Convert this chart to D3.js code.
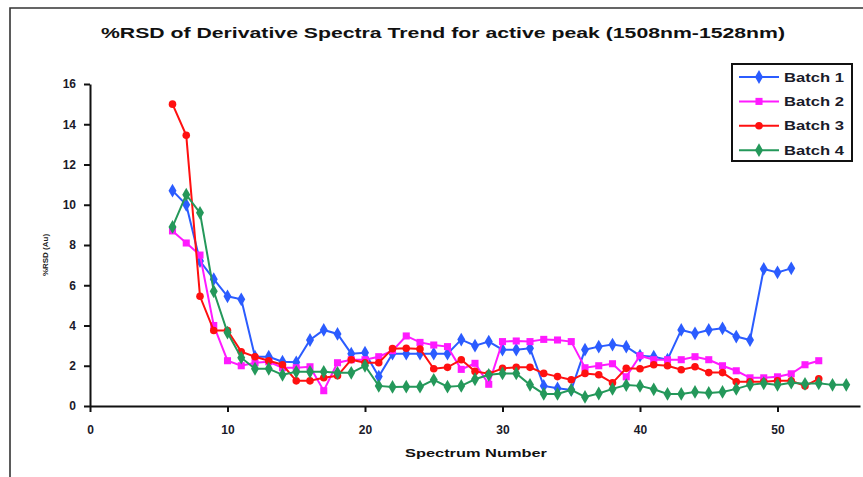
<!DOCTYPE html>
<html><head><meta charset="utf-8">
<script src="https://cdn.jsdelivr.net/npm/d3@7"></script>
<style>html,body{margin:0;padding:0;background:#fff;overflow:hidden}</style>
</head><body>
<svg id="c" width="863" height="477"></svg>
<script>
const chartTitle = "%RSD of Derivative Spectra Trend for active peak (1508nm-1528nm)";
const xTitle = "Spectrum Number";
const yTitle = "%RSD (Au)";
const seriesNames = ["Batch 1", "Batch 2", "Batch 3", "Batch 4"];
const xTicks = [0, 10, 20, 30, 40, 50];
const yTicks = [0, 2, 4, 6, 8, 10, 12, 14, 16];

const batch1Start = 6;
const batch1 = [10.7, 10.0, 7.2, 6.3, 5.45, 5.3, 2.45, 2.45, 2.2, 2.17, 3.28, 3.78, 3.58, 2.6, 2.65, 1.46,
  2.6, 2.6, 2.6, 2.6, 2.6, 3.3, 3.0, 3.2, 2.8, 2.8, 2.87, 1.0, 0.88, 0.8, 2.8, 2.95, 3.05, 2.95, 2.5, 2.45,
  2.3, 3.78, 3.61, 3.78, 3.86, 3.45, 3.28, 6.81, 6.64, 6.84];
const batch2Start = 6;
const batch2 = [8.7, 8.1, 7.5, 4.0, 2.25, 2.0, 2.15, 2.2, 1.9, 1.9, 1.95, 0.76, 2.15, 2.3, 2.3, 2.45, 2.75,
  3.48, 3.16, 3.03, 2.95, 1.82, 2.12, 1.08, 3.2, 3.23, 3.2, 3.31, 3.28, 3.2, 1.9, 2.0, 2.1, 1.45, 2.5, 2.3,
  2.3, 2.3, 2.45, 2.3, 2.0, 1.75, 1.4, 1.4, 1.45, 1.6, 2.05, 2.25];
const batch3Start = 6;
const batch3 = [15.0, 13.45, 5.45, 3.75, 3.75, 2.7, 2.45, 2.25, 2.05, 1.25, 1.25, 1.4, 1.5, 2.3, 2.15, 2.15,
  2.85, 2.87, 2.83, 1.85, 1.92, 2.3, 1.72, 1.6, 1.87, 1.92, 1.92, 1.62, 1.46, 1.3, 1.62, 1.55, 1.15, 1.87,
  1.85, 2.05, 2.0, 1.8, 1.95, 1.66, 1.66, 1.2, 1.2, 1.2, 1.25, 1.25, 1.0, 1.35];
const batch4Start = 6;
const batch4 = [8.9, 10.5, 9.6, 5.7, 3.65, 2.4, 1.85, 1.85, 1.55, 1.7, 1.7, 1.7, 1.65, 1.65, 2.0, 1.0, 0.95,
  0.96, 0.96, 1.3, 0.96, 1.0, 1.33, 1.55, 1.62, 1.62, 1.05, 0.6, 0.6, 0.8, 0.45, 0.62, 0.85, 1.04, 1.0, 0.83,
  0.6, 0.6, 0.7, 0.65, 0.7, 0.85, 1.05, 1.13, 1.05, 1.16, 1.1, 1.13, 1.05, 1.05];

const colors = ["#2b5cff", "#ff1aff", "#ff1010", "#24985a"];
const symbols = [d3.symbolDiamond, d3.symbolSquare, d3.symbolCircle, d3.symbolDiamond];
const symSizes = [55, 50, 45, 55];

const series = [
  {name: seriesNames[0], start: batch1Start, vals: batch1},
  {name: seriesNames[1], start: batch2Start, vals: batch2},
  {name: seriesNames[2], start: batch3Start, vals: batch3},
  {name: seriesNames[3], start: batch4Start, vals: batch4}
].map(s => ({name: s.name, pts: s.vals.map((v, i) => [s.start + i, v])}));

const svg = d3.select("#c");
const font = "'Liberation Sans', Arial, sans-serif";

// outer frame
svg.append("path").attr("d", "M10,477 L10,8 L863,8")
  .attr("fill", "none").attr("stroke", "#333").attr("stroke-width", 1.6);

const x = d3.scaleLinear().domain([0, 56]).range([90, 860]);
const y = d3.scaleLinear().domain([0, 16]).range([406, 84]);

// title
svg.append("text").attr("x", 443).attr("y", 38).attr("text-anchor", "middle")
  .attr("font-family", font).attr("font-weight", "bold").attr("font-size", 15)
  .attr("fill", "#111").attr("textLength", 684).attr("lengthAdjust", "spacingAndGlyphs")
  .text(chartTitle);

// axes
const yAxis = svg.append("g").attr("transform", "translate(90,0)")
  .call(d3.axisLeft(y).tickValues(yTicks).tickSize(6).tickSizeOuter(0).tickPadding(8));
const xAxis = svg.append("g").attr("transform", "translate(0,406)")
  .call(d3.axisBottom(x).tickValues(xTicks).tickSize(6).tickSizeOuter(0).tickPadding(13));
[yAxis, xAxis].forEach(g => {
  g.select(".domain").attr("stroke", "#111").attr("stroke-width", 2);
  g.selectAll(".tick line").attr("stroke", "#111").attr("stroke-width", 2);
  g.selectAll(".tick text").attr("font-family", font).attr("font-weight", "bold")
    .attr("font-size", 12).attr("fill", "#1a1a2a");
});

// axis titles
svg.append("text").attr("x", 476).attr("y", 457).attr("text-anchor", "middle")
  .attr("font-family", font).attr("font-weight", "bold").attr("font-size", 11.5)
  .attr("fill", "#111").attr("textLength", 142).attr("lengthAdjust", "spacingAndGlyphs")
  .text(xTitle);
svg.append("text").attr("transform", "translate(48,255) rotate(-90)").attr("text-anchor", "middle")
  .attr("font-family", font).attr("font-weight", "bold").attr("font-size", 8)
  .attr("fill", "#222").text(yTitle);

// series
const line = d3.line().x(d => x(d[0])).y(d => y(d[1]));
series.forEach((s, i) => {
  const g = svg.append("g");
  g.append("path").datum(s.pts).attr("d", line).attr("fill", "none")
    .attr("stroke", colors[i]).attr("stroke-width", 2);
  g.selectAll("path.m").data(s.pts).enter().append("path").attr("class", "m")
    .attr("transform", d => `translate(${x(d[0])},${y(d[1])})`)
    .attr("d", d3.symbol().type(symbols[i]).size(symSizes[i]))
    .attr("fill", colors[i]);
});

// legend
const lg = svg.append("g");
lg.append("rect").attr("x", 732).attr("y", 64).attr("width", 120).attr("height", 97)
  .attr("fill", "#fff").attr("stroke", "#111").attr("stroke-width", 2);
series.forEach((s, i) => {
  const yy = 77 + i * 24.4;
  lg.append("line").attr("x1", 739).attr("x2", 779).attr("y1", yy).attr("y2", yy)
    .attr("stroke", colors[i]).attr("stroke-width", 2);
  lg.append("path").attr("transform", `translate(759,${yy})`)
    .attr("d", d3.symbol().type(symbols[i]).size(symSizes[i]))
    .attr("fill", colors[i]);
  lg.append("text").attr("x", 784).attr("y", yy + 4.5)
    .attr("font-family", font).attr("font-weight", "bold").attr("font-size", 13)
    .attr("fill", "#1a1a2a").attr("textLength", 60).attr("lengthAdjust", "spacingAndGlyphs")
    .text(s.name);
});
</script>
</body></html>
